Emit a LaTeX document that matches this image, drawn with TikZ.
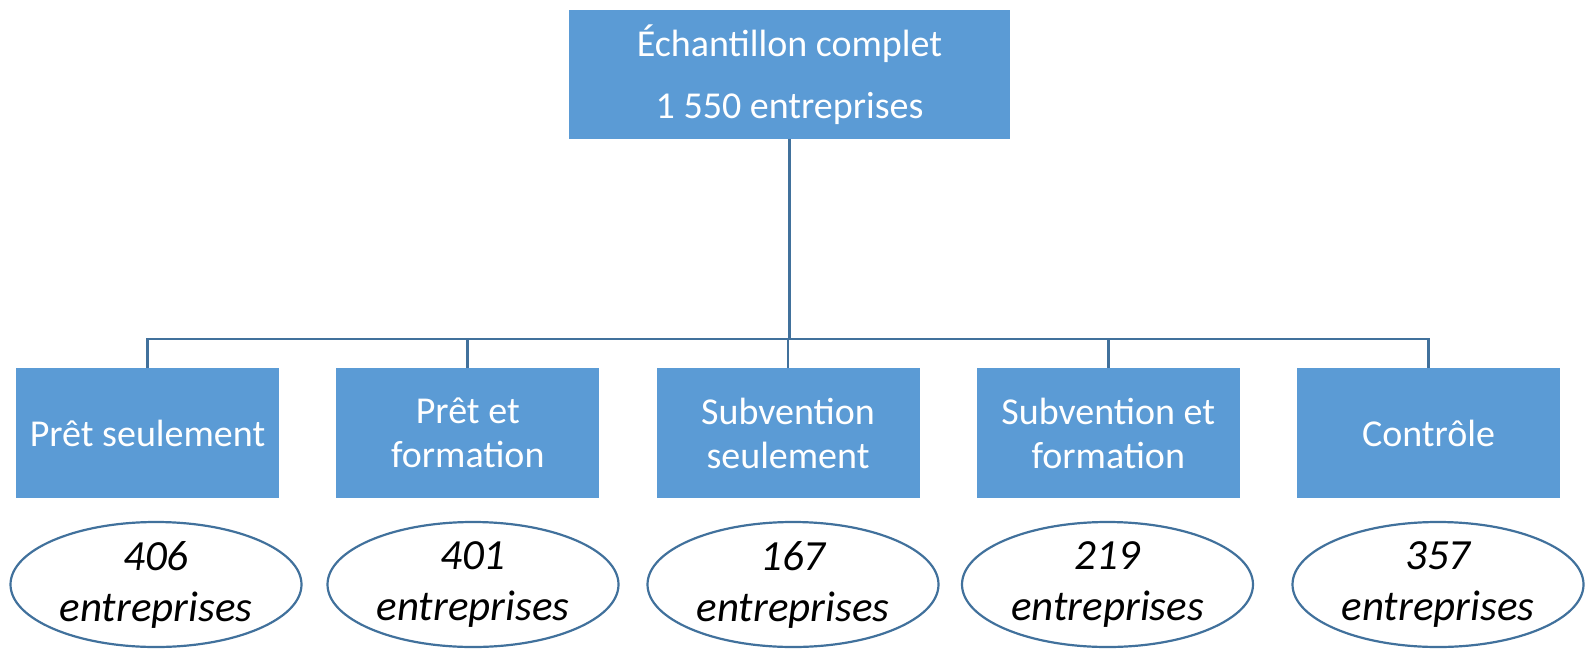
\documentclass[tikz,border=0pt]{standalone}
\usepackage{fontspec}
\setmainfont{Carlito}
\usetikzlibrary{shapes.geometric}
\definecolor{boxblue}{HTML}{5B9BD5}
\definecolor{lineblue}{HTML}{41719C}
\tikzset{
  group/.style={rectangle, fill=boxblue, draw=none, minimum width=263pt, minimum height=130pt, inner sep=0pt, text=white, align=center, font=\fontsize{38}{44}\selectfont},
  topbox/.style={rectangle, fill=boxblue, draw=none, minimum width=441pt, minimum height=129pt, inner sep=0pt, text=white, align=center, font=\fontsize{38}{62}\selectfont},
  count/.style={ellipse, draw=lineblue, line width=2.2pt, fill=white, minimum width=291pt, minimum height=125pt, inner sep=0pt, align=center, font=\fontsize{43}{51}\selectfont\itshape},
  conn/.style={draw=lineblue, line width=2.6pt}
}
\begin{document}
\begin{tikzpicture}[x=1pt,y=-1pt]
\useasboundingbox (0,0) rectangle (1585,648);
\node[topbox] (top) at (789.5,74.5) {Échantillon complet\\1 550 entreprises};
\node[group] (b1) at (147.5,433) {Prêt seulement};
\node[group] (b2) at (467.75,433) {Prêt et\\formation};
\node[group] (b3) at (788,433) {Subvention\\seulement};
\node[group] (b4) at (1108.25,433) {Subvention et\\formation};
\node[group] (b5) at (1428.5,433) {Contrôle};
\coordinate (bus) at (0,339);
\draw[conn] (top.south) -- (top.south |- bus);
\draw[conn] (b1.north) -- (b1.north |- bus) -- (b5.north |- bus) -- (b5.north);
\draw[conn] (b2.north) -- (b2.north |- bus);
\draw[conn] (b3.north) -- (b3.north |- bus);
\draw[conn] (b4.north) -- (b4.north |- bus);
\node[count] (e1) at (156,584.5) {406\\entreprises};
\node[count] (e2) at (473,584.5) {401\\entreprises};
\node[count] (e3) at (793,584.5) {167\\entreprises};
\node[count] (e4) at (1107.5,584.5) {219\\entreprises};
\node[count] (e5) at (1438,584.5) {357\\entreprises};
\end{tikzpicture}
\end{document}
